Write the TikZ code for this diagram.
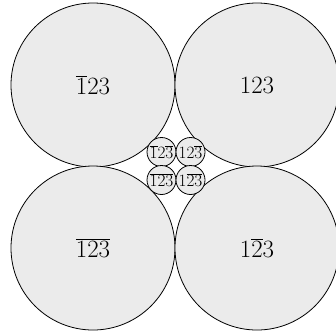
\documentclass[tikz,border=0pt]{standalone}
\begin{document}
\begin{tikzpicture}[x=1pt,y=-1pt,
  big/.style={circle,draw,line width=0.8pt,fill=black!8,minimum size=164pt,inner sep=0pt,font=\fontsize{25}{30}\selectfont},
  small/.style={circle,draw,line width=0.8pt,fill=black!8,minimum size=29pt,inner sep=0pt,font=\fontsize{16}{19}\selectfont}]
\useasboundingbox (0,0) rectangle (336,333);
\node[big] (tl) at (93,85) {$\overline{1}23$};
\node[big] (tr) at (257,85) {$123$};
\node[big] (bl) at (93,248) {$\overline{123}$};
\node[big] (br) at (257,248) {$1\overline{2}3$};
\node[small] (stl) at (161.5,152) {$\overline{1}2\overline{3}$};
\node[small] (str) at (190.5,152) {$12\overline{3}$};
\node[small] (sbl) at (161.5,180) {$\overline{123}$};
\node[small] (sbr) at (190.5,180) {$1\overline{23}$};
\end{tikzpicture}
\end{document}
